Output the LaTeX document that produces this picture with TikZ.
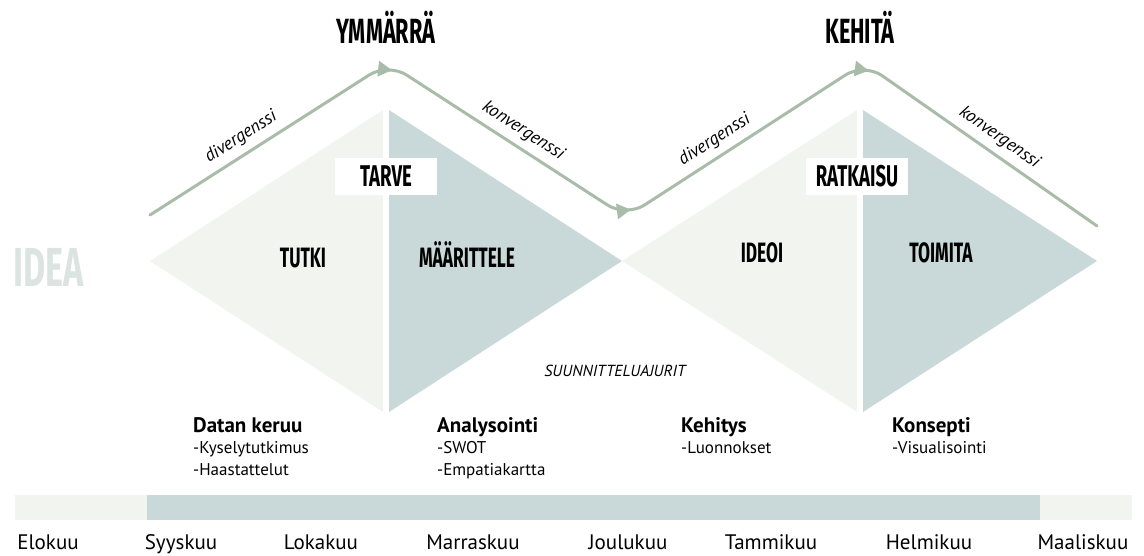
\documentclass[tikz,border=0pt]{standalone}
\usepackage{fontspec}
\setmainfont{PT Sans}
\newfontfamily\headfont[FakeStretch=0.62]{Fira Sans}
\usetikzlibrary{arrows.meta,decorations.markings}
\definecolor{lightpart}{HTML}{F2F5EF}
\definecolor{greypart}{HTML}{C9D9D9}
\definecolor{flowline}{HTML}{A8BCA9}
\definecolor{ideagrey}{HTML}{DCE4E2}
\tikzset{
  phase/.style={anchor=base,inner sep=0,font=\headfont\bfseries\fontsize{35pt}{38pt}\selectfont},
  part/.style={anchor=base,inner sep=0,font=\headfont\bfseries\fontsize{28pt}{30pt}\selectfont},
  namebox/.style={fill=white,minimum width=102pt,minimum height=37pt,inner sep=0,
    font=\headfont\bfseries\fontsize{30pt}{32pt}\selectfont},
  flowlabel/.style={sloped,above=8pt,inner sep=0,font=\itshape\fontsize{18pt}{20pt}\selectfont},
  stagehead/.style={anchor=base west,inner sep=0,font=\bfseries\fontsize{21pt}{23pt}\selectfont},
  stageitem/.style={anchor=base west,inner sep=0,font=\fontsize{17pt}{19pt}\selectfont},
  month/.style={anchor=base,inner sep=0,font=\fontsize{21pt}{23pt}\selectfont}
}
\begin{document}
\begin{tikzpicture}[x=1pt,y=-1pt,line join=round,line cap=round]
\useasboundingbox (0,0) rectangle (1144,556);
\path
(150,215)coordinate(A)
(388,63)coordinate(P1)
(626,217)coordinate(V)
(864,63)coordinate(P2)
(1097,226)coordinate(E);
% diamonds
\fill[lightpart] (150,261)--(383,110)--(383,412)--cycle;
\fill[greypart] (389,110)--(622,261)--(389,412)--cycle;
\fill[lightpart] (622,261)--(857,110)--(857,412)--cycle;
\fill[greypart] (863,110)--(1097,261)--(863,412)--cycle;
% flow line
\draw[flowline,line width=3pt,rounded corners=22pt,postaction={decorate},
  decoration={markings,
    mark=at position 284pt with {\arrow{Triangle[length=14pt,width=15pt]}},
    mark=at position 563pt with {\arrow{Triangle[length=14pt,width=15pt]}},
    mark=at position 841pt with {\arrow{Triangle[length=14pt,width=15pt]}}}]
  (A)--(P1)--(V)--(P2)--(E);
\path (A)--node[flowlabel,pos=.42](div1){divergenssi}(P1)
      (P1)--node[flowlabel,pos=.53](konv1){konvergenssi}(V)
      (V)--node[flowlabel,pos=.41](div2){divergenssi}(P2)
      (P2)--node[flowlabel,pos=.54](konv2){konvergenssi}(E);
\node[phase] (ymm) at (386,44) {YMMÄRRÄ};
\node[phase] (keh) at (860,44) {KEHITÄ};
\node[namebox] (tarve) at (386,176.5) {TARVE};
\node[namebox] (ratk) at (857,176.5) {RATKAISU};
\node[part] (tutki) at (303,268) {TUTKI};
\node[part] (maar) at (467,268) {MÄÄRITTELE};
\node[part] (ideoi) at (762,263) {IDEOI};
\node[part] (toim) at (941,263) {TOIMITA};
\node[anchor=base west,inner sep=0,ideagrey,font=\headfont\bfseries\fontsize{55pt}{57pt}\selectfont] (idea) at (13,287) {IDEA};
\node[anchor=base,inner sep=0,font=\itshape\fontsize{16pt}{18pt}\selectfont] (ajurit) at (615,376) {SUUNNITTELUAJURIT};
% stages
\node[stagehead] (datan) at (193,432) {Datan keruu};
\node[stageitem] (kysely) at (193,453) {-Kyselytutkimus};
\node[stageitem] (haast) at (193,475) {-Haastattelut};
\node[stagehead] (anal) at (437,432) {Analysointi};
\node[stageitem] (swot) at (437,453) {-SWOT};
\node[stageitem] (empat) at (437,475) {-Empatiakartta};
\node[stagehead] (kehit) at (681,432) {Kehitys};
\node[stageitem] (luonn) at (681,453) {-Luonnokset};
\node[stagehead] (kons) at (892,432) {Konsepti};
\node[stageitem] (visu) at (892,453) {-Visualisointi};
% timeline
\fill[lightpart] (15,495) rectangle (147,520);
\fill[greypart] (147,495) rectangle (1040,520);
\fill[lightpart] (1040,495) rectangle (1132,520);
\foreach \m/\x in {Elokuu/48,Syyskuu/181,Lokakuu/321,Marraskuu/473,Joulukuu/628,Tammikuu/771,Helmikuu/929,Maaliskuu/1083}
\node[month] (\m) at (\x,549) {\m};
\end{tikzpicture}
\end{document}
